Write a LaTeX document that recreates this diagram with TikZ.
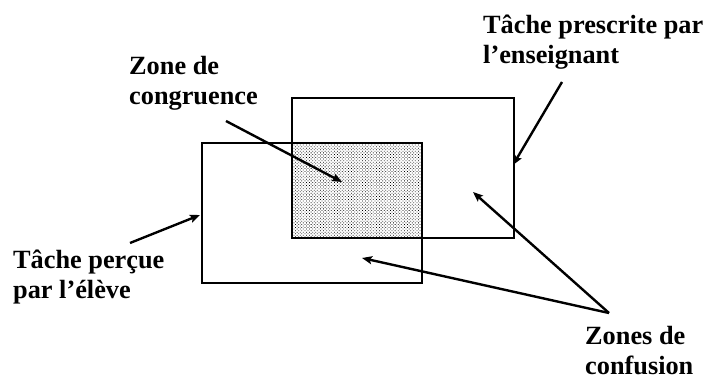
\documentclass[tikz,border=0pt]{standalone}
\usepackage{fontspec}
\setmainfont{Liberation Serif}
\usetikzlibrary{arrows.meta,patterns.meta}
\tikzset{
  lbl/.style={font=\fontsize{26.3}{30}\selectfont\bfseries, align=left, inner sep=0pt, anchor=north west},
  frame/.style={draw, line width=1.6pt},
  pointer/.style={line width=2.4pt, -{Stealth[length=10pt,width=8pt,inset=2pt]}, shorten >=0pt}
}
\begin{document}
\begin{tikzpicture}[x=1pt,y=-1pt]
\useasboundingbox (0,0) rectangle (707,380);
% shaded overlap
\fill[pattern={Dots[distance=2.2pt,radius=0.55pt,angle=45]}, pattern color=black] (291,142) rectangle (421,237);
\node[frame, minimum width=222pt, minimum height=140pt, anchor=north west, inner sep=0pt] (teacher) at (291,97) {};
\node[frame, minimum width=220pt, minimum height=140pt, anchor=north west, inner sep=0pt] (student) at (201,142) {};
% labels
\node[lbl] (zc) at (129,56) {Zone de\\congruence};
\node[lbl] (tp) at (483,15) {Tâche prescrite par\\l’enseignant};
\node[lbl] (te) at (13,250) {Tâche perçue\\par l’élève};
\node[lbl] (zf) at (585,326) {Zones de\\confusion};
% arrow ends
\coordinate (zcA) at (226,121);
\coordinate (zcB) at (342,182);
\coordinate (tpA) at (562,82);
\coordinate (tpB) at (513,165);
\coordinate (teA) at (130,243);
\coordinate (teB) at (200,215);
\coordinate (zfA) at (609,313);
\coordinate (zfB) at (473,192);
\coordinate (zfC) at (362,258);
\draw[pointer] (zcA) -- (zcB);
\draw[pointer] (tpA) -- (tpB);
\draw[pointer] (teA) -- (teB);
\draw[pointer] (zfA) -- (zfB);
\draw[pointer] (zfA) -- (zfC);
\end{tikzpicture}
\end{document}
